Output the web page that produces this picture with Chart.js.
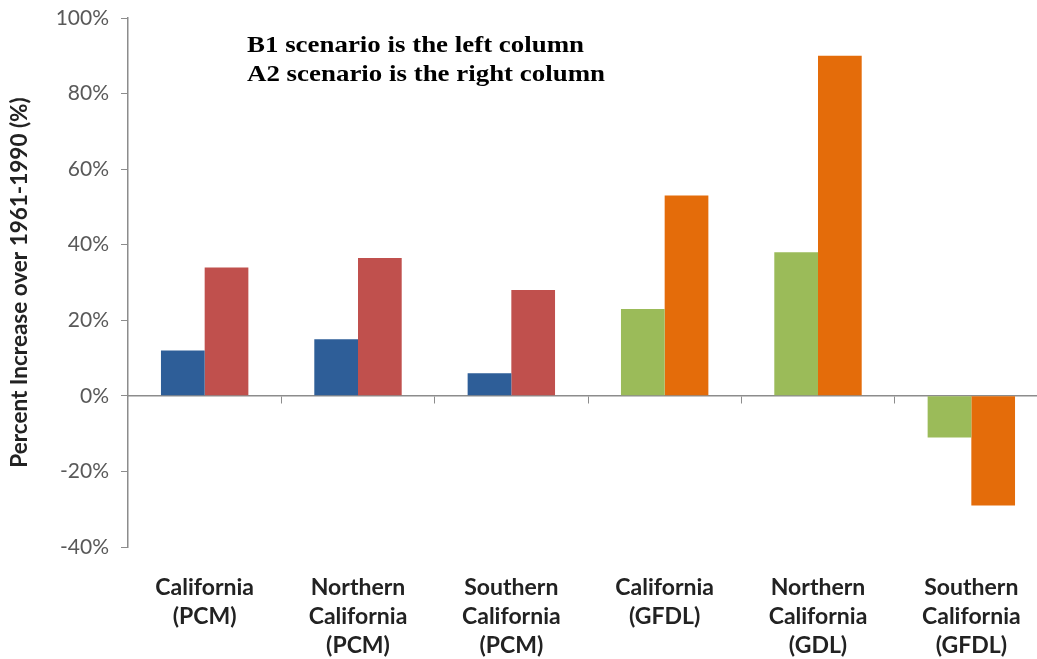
<!DOCTYPE html>
<html>
<head>
<meta charset="utf-8">
<script src="https://cdn.jsdelivr.net/npm/chart.js@4/dist/chart.umd.min.js"></script>
<style>
  html, body { margin: 0; padding: 0; background: #fff; overflow: hidden; }
  #wrap { width: 1060px; height: 659px; }
</style>
</head>
<body>
<div id="wrap"><canvas id="c"></canvas></div>
<script>
// categories (x axis)
const regions = [
  ["California", "(PCM)"],
  ["Northern", "California", "(PCM)"],
  ["Southern", "California", "(PCM)"],
  ["California", "(GFDL)"],
  ["Northern", "California", "(GDL)"],
  ["Southern", "California", "(GFDL)"]
];

// percent increase over 1961-1990
const b1Values = [12, 15, 6, 23, 38, -11];   // left column
const a2Values = [34, 36.5, 28, 53, 90, -29]; // right column

// PCM groups use blue/red, GFDL groups use green/orange
const b1Colors = ["#2E5E98", "#2E5E98", "#2E5E98", "#9BBB59", "#9BBB59", "#9BBB59"];
const a2Colors = ["#C0504D", "#C0504D", "#C0504D", "#E46C0A", "#E46C0A", "#E46C0A"];

const noteLines = ["B1 scenario is the left column", "A2 scenario is the right column"];

const axisGray = "#8C8C8C";
const sansFont = "Lato, 'Open Sans', sans-serif";

// draw the two-line note in the top left (source text is a bit wide, so stretch it)
const notePlugin = {
  id: "note",
  afterDraw(chart) {
    const ctx = chart.ctx;
    ctx.save();
    ctx.translate(247, 0);
    ctx.scale(1.17, 1);
    ctx.font = "bold 23px 'Liberation Serif', 'Times New Roman', serif";
    ctx.fillStyle = "#000";
    ctx.textBaseline = "alphabetic";
    ctx.fillText(noteLines[0], 0, 52);
    ctx.fillText(noteLines[1], 0, 81);
    ctx.restore();
  }
};

new Chart(document.getElementById("c"), {
  type: "bar",
  data: {
    labels: regions,
    datasets: [
      {
        label: "B1",
        data: b1Values,
        backgroundColor: b1Colors,
        barPercentage: 1,
        categoryPercentage: 0.57
      },
      {
        label: "A2",
        data: a2Values,
        backgroundColor: a2Colors,
        barPercentage: 1,
        categoryPercentage: 0.57
      }
    ]
  },
  options: {
    responsive: true,
    maintainAspectRatio: false,
    animation: false,
    layout: { padding: { top: 18, right: 12, left: 0, bottom: 0 } },
    plugins: {
      legend: { display: false },
      tooltip: { enabled: false }
    },
    scales: {
      x: {
        position: "bottom",
        grid: { display: false },
        border: { display: false },
        ticks: {
          color: "#222",
          padding: 18,
          maxRotation: 0,
          autoSkip: false,
          font: { family: sansFont, size: 23, weight: "bold", lineHeight: 1.27 }
        },
        afterFit(scale) { scale.height = 112; }
      },
      // axis line at 0% with tick marks between groups
      x0: {
        type: "category",
        position: { y: 0 },
        offset: true,
        grid: { offset: true, drawOnChartArea: false, drawTicks: true, tickLength: 7, color: axisGray },
        border: { display: true, color: axisGray, width: 1.5 },
        ticks: { display: false }
      },
      y: {
        min: -40,
        max: 100,
        ticks: {
          stepSize: 20,
          color: "#595959",
          padding: 12,
          font: { family: sansFont, size: 21 },
          callback: (v) => v + "%"
        },
        grid: { drawOnChartArea: false, drawTicks: true, tickLength: 7, color: axisGray },
        border: { display: true, color: axisGray, width: 1.5 },
        title: {
          display: true,
          text: "Percent Increase over 1961-1990 (%)",
          color: "#222",
          padding: { top: 6, bottom: 0 },
          font: { family: sansFont, size: 22.5, weight: "bold" }
        },
        afterFit(scale) {
          scale.width = 128;
          scale.paddingTop = 0;
          scale.paddingBottom = 0;
        }
      }
    }
  },
  plugins: [notePlugin]
});
</script>
</body>
</html>
